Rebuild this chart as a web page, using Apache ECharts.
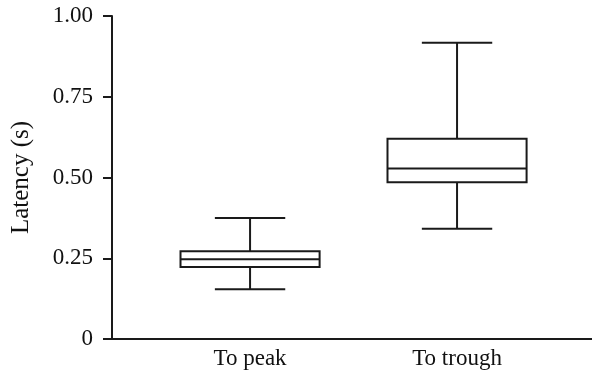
<!DOCTYPE html>
<html>
<head>
<meta charset="utf-8">
<script src="https://cdn.jsdelivr.net/npm/echarts@6/dist/echarts.min.js"></script>
<style>
  html, body { margin: 0; padding: 0; background: #fff; }
  #chart { width: 592px; height: 374px; }
</style>
</head>
<body>
<div id="chart"></div>
<script>
// Latency distributions (seconds)
const categories = ['To peak', 'To trough'];
const whiskerLow = [0.154, 0.341];
const quartile1 = [0.223, 0.485];
const medians = [0.247, 0.528];
const quartile3 = [0.272, 0.620];
const whiskerHigh = [0.375, 0.917];
const yTickValues = [0, 0.25, 0.5, 0.75, 1.0];

const INK = '#1a1a1a';
const FONT = '"Liberation Serif", "Times New Roman", serif';
const BOX_HALF = 0.336;   // half box width, in category units
const CAP_HALF = 0.17;    // half whisker-cap width, in category units

const boxData = categories.map((c, i) => [
  i + 1, whiskerLow[i], quartile1[i], medians[i], quartile3[i], whiskerHigh[i]
]);

const chart = echarts.init(document.getElementById('chart'), null, { renderer: 'canvas' });

chart.setOption({
  backgroundColor: '#fff',
  animation: false,
  grid: { left: 112, right: 0, top: 16, bottom: 35 },
  xAxis: {
    type: 'value',
    min: 0.333,
    max: 2.652,
    splitLine: { show: false },
    axisTick: { show: false },
    axisLine: { show: true, onZero: false, lineStyle: { color: INK, width: 2 } },
    axisLabel: {
      customValues: [1, 2],
      formatter: v => categories[Math.round(v) - 1] || '',
      color: '#111',
      fontFamily: FONT,
      fontSize: 23,
      margin: 8
    }
  },
  yAxis: {
    type: 'value',
    min: 0,
    max: 1,
    interval: 0.25,
    name: 'Latency (s)',
    nameLocation: 'middle',
    nameGap: 78,
    nameTextStyle: { color: '#111', fontFamily: FONT, fontSize: 25 },
    splitLine: { show: false },
    axisLine: { show: true, lineStyle: { color: INK, width: 2 } },
    axisTick: { show: true, length: 9, lineStyle: { color: INK, width: 2 } },
    axisLabel: {
      color: '#111',
      fontFamily: FONT,
      fontSize: 23,
      margin: 19,
      formatter: v => (v === 0 ? '0' : v.toFixed(2))
    }
  },
  series: [{
    type: 'custom',
    data: boxData,
    encode: { x: 0, y: [1, 2, 3, 4, 5] },
    renderItem(params, api) {
      const x = api.value(0);
      const pLow = api.coord([x, api.value(1)]);
      const pQ1 = api.coord([x, api.value(2)]);
      const pMed = api.coord([x, api.value(3)]);
      const pQ3 = api.coord([x, api.value(4)]);
      const pHigh = api.coord([x, api.value(5)]);
      const cx = pMed[0];
      const half = api.size([BOX_HALF, 0])[0];
      const cap = api.size([CAP_HALF, 0])[0];
      const lineStyle = { stroke: INK, lineWidth: 2, fill: null };
      const seg = (x1, y1, x2, y2) => ({
        type: 'line', shape: { x1, y1, x2, y2 }, style: lineStyle
      });
      return {
        type: 'group',
        children: [
          seg(cx, pHigh[1], cx, pQ3[1]),
          seg(cx, pQ1[1], cx, pLow[1]),
          seg(cx - cap, pHigh[1], cx + cap, pHigh[1]),
          seg(cx - cap, pLow[1], cx + cap, pLow[1]),
          {
            type: 'rect',
            shape: { x: cx - half, y: pQ3[1], width: half * 2, height: pQ1[1] - pQ3[1] },
            style: { fill: '#fff', stroke: INK, lineWidth: 2 }
          },
          seg(cx - half, pMed[1], cx + half, pMed[1])
        ]
      };
    }
  }]
});
</script>
</body>
</html>
